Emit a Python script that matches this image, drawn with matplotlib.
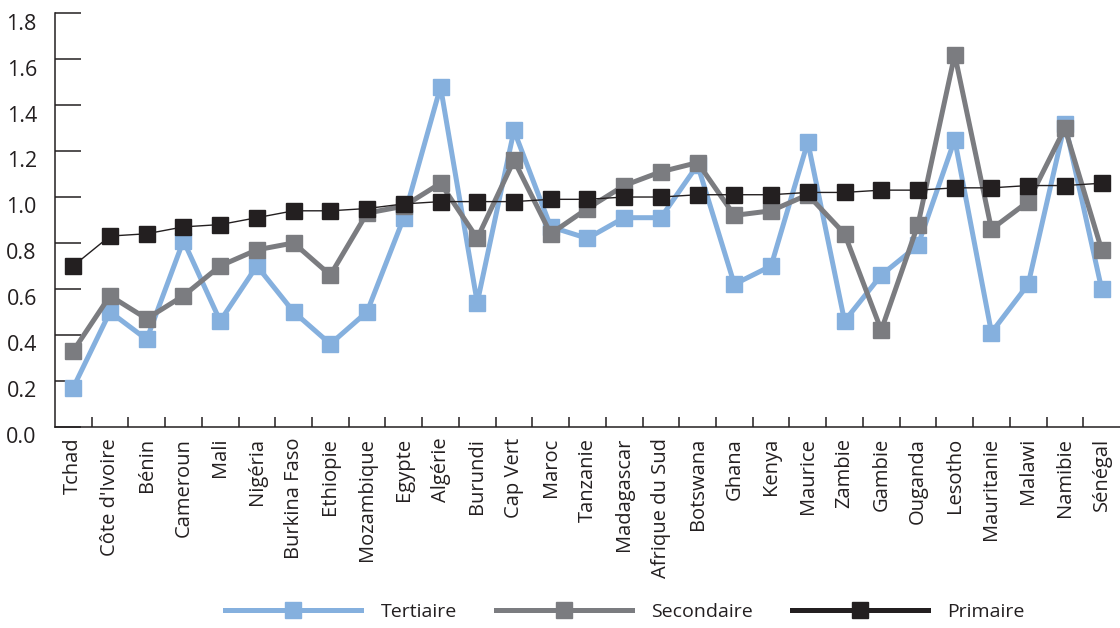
import matplotlib
matplotlib.use('Agg')
import numpy as np
import matplotlib.pyplot as plt
import matplotlib.transforms as mtransforms

pays = ["Tchad", "Côte d'Ivoire", "Bénin", "Cameroun", "Mali", "Nigéria",
        "Burkina Faso", "Ethiopie", "Mozambique", "Egypte", "Algérie",
        "Burundi", "Cap Vert", "Maroc", "Tanzanie", "Madagascar",
        "Afrique du Sud", "Botswana", "Ghana", "Kenya", "Maurice", "Zambie",
        "Gambie", "Ouganda", "Lesotho", "Mauritanie", "Malawi", "Namibie",
        "Sénégal"]

tertiaire = [0.17, 0.50, 0.38, 0.81, 0.46, 0.70, 0.50, 0.36, 0.50, 0.91,
             1.48, 0.54, 1.29, 0.87, 0.82, 0.91, 0.91, 1.14, 0.62, 0.70,
             1.24, 0.46, 0.66, 0.79, 1.25, 0.41, 0.62, 1.32, 0.60]
secondaire = [0.33, 0.57, 0.47, 0.57, 0.70, 0.77, 0.80, 0.66, 0.93, 0.96,
              1.06, 0.82, 1.16, 0.84, 0.95, 1.05, 1.11, 1.15, 0.92, 0.94,
              1.01, 0.84, 0.42, 0.88, 1.62, 0.86, 0.98, 1.30, 0.77]
primaire = [0.70, 0.83, 0.84, 0.87, 0.88, 0.91, 0.94, 0.94, 0.95, 0.97,
            0.98, 0.98, 0.98, 0.99, 0.99, 1.00, 1.00, 1.01, 1.01, 1.01,
            1.02, 1.02, 1.03, 1.03, 1.04, 1.04, 1.05, 1.05, 1.06]

plt.rcParams['font.family'] = ['Open Sans', 'DejaVu Sans']
axis_col = '#231f20'

fig = plt.figure(figsize=(11.2, 6.28), dpi=100)
ax = fig.add_axes([0.049, 0.3206, 0.951, 0.6582])

x = np.arange(len(pays))
ax.plot(x, tertiaire, color='#85b0de', lw=3.6, marker='s', ms=12,
        label='Tertiaire', zorder=3)
ax.plot(x, secondaire, color='#7b7c80', lw=3.6, marker='s', ms=12,
        label='Secondaire', zorder=4)
ax.plot(x, primaire, color=axis_col, lw=1.0, marker='s', ms=12,
        label='Primaire', zorder=5)

ax.set_xlim(-0.5, len(pays) - 0.5)
ax.set_ylim(0, 1.8)
ax.set_yticks(np.arange(0, 1.81, 0.2))
ax.set_yticklabels([f'{v:.1f}' for v in np.arange(0, 1.81, 0.2)])
ax.set_xticks(x)
ax.set_xticklabels(pays, rotation=90)
ax.set_xticks(x[:-1] + 0.5, minor=True)

for s in ['top', 'right']:
    ax.spines[s].set_visible(False)
for s in ['left', 'bottom']:
    ax.spines[s].set_color(axis_col)
    ax.spines[s].set_linewidth(1.1)

ax.tick_params(axis='y', direction='in', length=19, width=1.1,
               color=axis_col, labelsize=15.5, pad=13, labelcolor=axis_col)
ax.tick_params(axis='x', which='major', length=0, pad=8, labelsize=14.5,
               labelcolor=axis_col)
ax.tick_params(axis='x', which='minor', direction='in', length=7,
               width=1.1, color=axis_col)

# nudge the y labels a little below their ticks
shift = mtransforms.ScaledTranslation(0, -6 / 72, fig.dpi_scale_trans)
for lab in ax.get_yticklabels():
    lab.set_transform(lab.get_transform() + shift)

leg = fig.legend(loc='center', bbox_to_anchor=(0.558, 0.025), ncol=3,
                 frameon=False, fontsize=14, handlelength=7.0,
                 handletextpad=1.0, columnspacing=2.0, labelcolor=axis_col)
# the legend shows the primary line as thick as the others
leg.legend_handles[2].set_linewidth(3.6)

fig.savefig('out.png', dpi=100)
